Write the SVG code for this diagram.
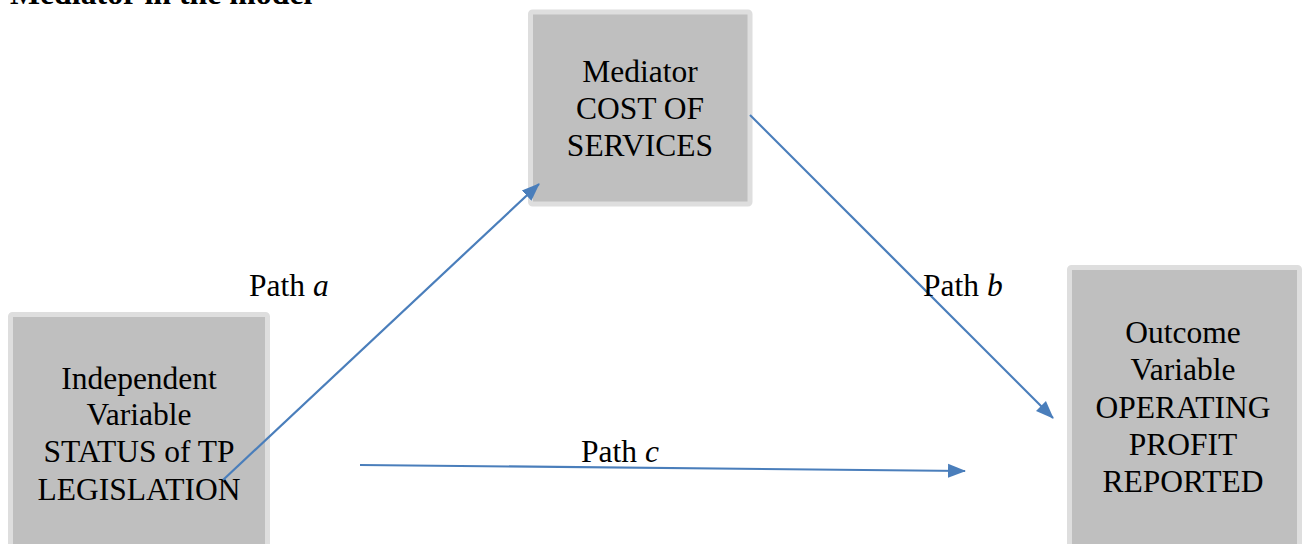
<svg xmlns="http://www.w3.org/2000/svg" width="1302" height="544" viewBox="0 0 1302 544">
<defs>
<style>
.box{fill:#bfbfbf;stroke:#dedede;stroke-width:5}
.t{font-family:"Liberation Serif","Times New Roman",serif;font-size:31.5px;fill:#000;text-anchor:middle}
.lbl{font-family:"Liberation Serif","Times New Roman",serif;font-size:31.5px;fill:#000}
.c{stroke:#4a7ebb;stroke-width:2.2;fill:none;marker-end:url(#ah)}
</style>
<marker id="ah" markerUnits="userSpaceOnUse" markerWidth="20" markerHeight="16" refX="17" refY="8" orient="auto">
<path d="M0,1 L18,8 L0,15 Z" fill="#4a7ebb"/>
</marker>
</defs>
<rect width="1302" height="544" fill="#fff"/>
<text x="10" y="4" font-family="Liberation Serif, serif" font-weight="bold" font-size="31.8px" fill="#000">Mediator in the model</text>
<g id="node-mediator">
<rect class="box" x="530.5" y="12" width="219.5" height="192" rx="2"/>
<text class="t" x="640" y="82">Mediator</text>
<text class="t" x="640" y="119">COST OF</text>
<text class="t" x="640" y="156">SERVICES</text>
</g>
<g id="node-independent">
<rect class="box" x="10.5" y="314.5" width="257" height="240" rx="2"/>
<text class="t" x="139" y="389">Independent</text>
<text class="t" x="139" y="425">Variable</text>
<text class="t" x="139" y="462">STATUS of TP</text>
<text class="t" x="139" y="500">LEGISLATION</text>
</g>
<g id="node-outcome">
<rect class="box" x="1069.5" y="267.5" width="230" height="290" rx="2"/>
<text class="t" x="1183" y="343">Outcome</text>
<text class="t" x="1183" y="380">Variable</text>
<text class="t" x="1183" y="418">OPERATING</text>
<text class="t" x="1183" y="455">PROFIT</text>
<text class="t" x="1183" y="492">REPORTED</text>
</g>
<g id="connectors">
<line class="c" x1="223" y1="480" x2="539" y2="184"/>
<line class="c" x1="750" y1="115" x2="1053" y2="418"/>
<line class="c" x1="360" y1="465" x2="965" y2="471"/>
</g>
<g id="labels">
<text class="lbl" x="249" y="296">Path <tspan font-style="italic">a</tspan></text>
<text class="lbl" x="923" y="296">Path <tspan font-style="italic">b</tspan></text>
<text class="lbl" x="581" y="462">Path <tspan font-style="italic">c</tspan></text>
</g>
</svg>
